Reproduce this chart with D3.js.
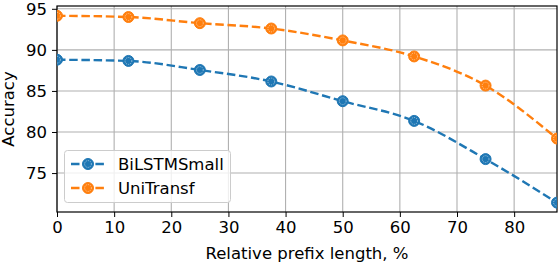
<!DOCTYPE html>
<html>
<head>
<meta charset="utf-8">
<script src="https://cdn.jsdelivr.net/npm/d3@7"></script>
<style>
  body { margin: 0; background: #fff; }
  svg text { font-family: "DejaVu Sans", sans-serif; fill: #000; }
</style>
</head>
<body>
<svg id="chart" width="560" height="264"></svg>
<script>
/*--- Data ---*/
const prefixLen = [0, 12.5, 25, 37.5, 50, 62.5, 75, 87.5];
const biLstmSmall = [88.8, 88.65, 87.55, 86.15, 83.75, 81.35, 76.7, 71.4];
const uniTransf = [94.15, 94.0, 93.25, 92.6, 91.15, 89.2, 85.65, 79.2];
const xTicks = [0, 10, 20, 30, 40, 50, 60, 70, 80];
const yTicks = [75, 80, 85, 90, 95];
const seriesNames = ["BiLSTMSmall", "UniTransf"];
const seriesColors = ["#1f77b4", "#ff7f0e"];

/*--- Layout ---*/
const svg = d3.select("#chart");
const plotLeft = 57, plotRight = 557, plotTop = 6, plotBottom = 212;
const fontSize = 16.5;

const x = d3.scaleLinear().domain([0, 87.5]).range([plotLeft, plotRight]);
const y = d3.scaleLinear().domain([70.26, 95.34]).range([plotBottom, plotTop]);

// grid
const grid = svg.append("g");
grid.selectAll("line.gx").data(xTicks).join("line")
    .attr("x1", d => x(d)).attr("x2", d => x(d))
    .attr("y1", plotTop).attr("y2", plotBottom)
    .attr("stroke", "#b0b0b0").attr("stroke-width", 1.1);
grid.selectAll("line.gy").data(yTicks).join("line")
    .attr("x1", plotLeft).attr("x2", plotRight)
    .attr("y1", d => y(d)).attr("y2", d => y(d))
    .attr("stroke", "#b0b0b0").attr("stroke-width", 1.1);

// axes
const xAxis = svg.append("g")
    .attr("transform", `translate(0,${plotBottom})`)
    .call(d3.axisBottom(x).tickValues(xTicks).tickSize(5).tickPadding(4).tickFormat(d3.format("d")));
const yAxis = svg.append("g")
    .attr("transform", `translate(${plotLeft},0)`)
    .call(d3.axisLeft(y).tickValues(yTicks).tickSize(5).tickPadding(5).tickFormat(d3.format("d")));
[xAxis, yAxis].forEach(a => {
    a.select(".domain").remove();
    a.selectAll(".tick line").attr("stroke", "#000").attr("stroke-width", 1);
    a.selectAll(".tick text").attr("font-size", fontSize).attr("font-family", "DejaVu Sans");
});

// frame
svg.append("rect")
    .attr("x", plotLeft).attr("y", plotTop)
    .attr("width", plotRight - plotLeft).attr("height", plotBottom - plotTop)
    .attr("fill", "none").attr("stroke", "#000").attr("stroke-width", 1.2);

// series
const line = d3.line()
    .x((d, i) => x(prefixLen[i]))
    .y(d => y(d))
    .curve(d3.curveMonotoneX);

svg.append("clipPath").attr("id", "plotclip")
    .append("rect").attr("x", plotLeft).attr("y", plotTop)
    .attr("width", plotRight - plotLeft).attr("height", plotBottom - plotTop);

function drawMarker(g, cx, cy, color) {
    g.append("circle").attr("cx", cx).attr("cy", cy).attr("r", 5.5)
        .attr("fill", color).attr("stroke", color).attr("stroke-width", 1);
    g.append("circle").attr("cx", cx).attr("cy", cy).attr("r", 3.4)
        .attr("fill", "none").attr("stroke", "#fff").attr("stroke-opacity", 0.7)
        .attr("stroke-width", 0.7).attr("stroke-dasharray", "1.2,1");
}

[biLstmSmall, uniTransf].forEach((vals, k) => {
    const g = svg.append("g").attr("clip-path", "url(#plotclip)");
    g.append("path")
        .attr("d", line(vals))
        .attr("fill", "none")
        .attr("stroke", seriesColors[k])
        .attr("stroke-width", 2.4)
        .attr("stroke-dasharray", "8.5,3.7");
    vals.forEach((v, i) => drawMarker(g, x(prefixLen[i]), y(v), seriesColors[k]));
});

// legend
const lg = svg.append("g");
lg.append("rect")
    .attr("x", 64.5).attr("y", 150.5).attr("width", 166).attr("height", 52)
    .attr("rx", 3).attr("fill", "#fff").attr("fill-opacity", 0.8)
    .attr("stroke", "#cccccc").attr("stroke-width", 1);
seriesNames.forEach((name, k) => {
    const ly = 164 + k * 24;
    lg.append("line")
        .attr("x1", 71).attr("x2", 105).attr("y1", ly).attr("y2", ly)
        .attr("stroke", seriesColors[k]).attr("stroke-width", 2.4)
        .attr("stroke-dasharray", "8.5,3.7");
    drawMarker(lg, 88, ly, seriesColors[k]);
    lg.append("text")
        .attr("x", 118).attr("y", ly + 6)
        .attr("font-size", fontSize)
        .text(name);
});

// axis labels
svg.append("text")
    .attr("x", (plotLeft + plotRight) / 2).attr("y", 259)
    .attr("text-anchor", "middle").attr("font-size", fontSize)
    .text("Relative prefix length, %");
svg.append("text")
    .attr("transform", `translate(14,${(plotTop + plotBottom) / 2}) rotate(-90)`)
    .attr("text-anchor", "middle").attr("font-size", fontSize)
    .text("Accuracy");
</script>
</body>
</html>
